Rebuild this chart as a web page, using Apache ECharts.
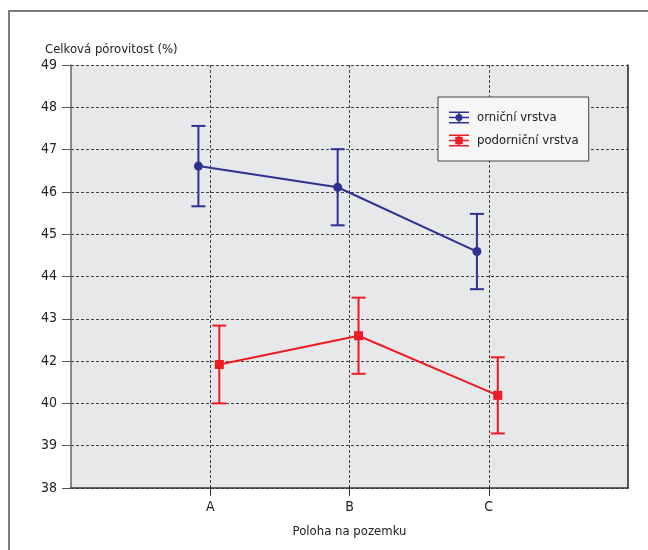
<!DOCTYPE html>
<html>
<head>
<meta charset="utf-8">
<script src="https://cdn.jsdelivr.net/npm/echarts@6/dist/echarts.min.js"></script>
<style>
  html, body { margin: 0; padding: 0; background: #fff; }
  #chart { width: 648px; height: 550px; }
</style>
</head>
<body>
<div id="chart"></div>
<script>
// kategorie na ose x
const categories = ['A', 'B', 'C'];
// orniční vrstva – průměr a polovina chybové úsečky
const orniciValues = [46.61, 46.11, 44.59];
const orniciErr = [0.95, 0.9, 0.89];
// podorniční vrstva
const podorniciValues = [41.92, 42.6, 41.19];
const podorniciErr = [0.92, 0.9, 0.9];
// popisky osy y tak, jak jsou v originále (41 chybí)
const yTickLabels = ['38', '39', '40', '42', '43', '44', '45', '46', '47', '48', '49'];

const FONT = "'Liberation Sans Narrow', 'DejaVu Sans Condensed', sans-serif";
const BLUE = '#2e3192';
const RED = '#ed1c24';

// posun bodů vedle sebe, aby se úsečky nepřekrývaly
const dodge = { ornici: -0.085, podornici: 0.065 };

function pts(values, off) {
  return values.map((v, i) => [i + 1 + off, v]);
}
function bars(values, err, off) {
  return values.map((v, i) => [i + 1 + off, v - err[i], v + err[i]]);
}

function errorBar(color) {
  return function (params, api) {
    const x = api.value(0);
    const lo = api.coord([x, api.value(1)]);
    const hi = api.coord([x, api.value(2)]);
    const w = 7;
    const style = { stroke: color, lineWidth: 2 };
    return {
      type: 'group',
      children: [
        { type: 'line', shape: { x1: lo[0], y1: lo[1], x2: hi[0], y2: hi[1] }, style },
        { type: 'line', shape: { x1: hi[0] - w, y1: hi[1], x2: hi[0] + w, y2: hi[1] }, style },
        { type: 'line', shape: { x1: lo[0] - w, y1: lo[1], x2: lo[0] + w, y2: lo[1] }, style }
      ]
    };
  };
}

// ikonky legendy: čárky jako chybová úsečka + značka
const iconCircle = 'path://M0,0h20v1.5h-20z M0,5.25h20v1.5h-20z M0,10.5h20v1.5h-20z M9.25,0h1.5v12h-1.5z M6.5,6a3.5,3.5 0 1,1 7,0a3.5,3.5 0 1,1 -7,0z';
const iconSquare = 'path://M0,0h20v1.5h-20z M0,5.25h20v1.5h-20z M0,10.5h20v1.5h-20z M9.25,0h1.5v12h-1.5z M6.25,2.25h7.5v7.5h-7.5z';

const myechart = echarts.init(document.getElementById('chart'));

const option = {
  animation: false,
  textStyle: { fontFamily: FONT },
  title: {
    text: 'Celková pórovitost (%)',
    left: 40,
    top: 38,
    textStyle: { fontFamily: FONT, fontSize: 13, fontWeight: 'normal', color: '#222' }
  },
  graphic: [
    {
      type: 'polyline',
      shape: { points: [[9, 560], [9, 11], [670, 11]] },
      style: { stroke: '#7a7a7a', lineWidth: 2, fill: null },
      silent: true
    }
  ],
  grid: {
    left: 71,
    right: 20,
    top: 65,
    bottom: 62,
    show: true,
    backgroundColor: '#e7e8ea',
    borderWidth: 0
  },
  legend: {
    orient: 'vertical',
    left: 438,
    top: 97,
    padding: [14, 10, 14, 11],
    itemGap: 10,
    itemWidth: 20,
    itemHeight: 12,
    backgroundColor: '#f6f6f6',
    borderColor: '#444',
    borderWidth: 1,
    textStyle: { fontFamily: FONT, fontSize: 13, color: '#222', padding: [0, 0, 0, 3] },
    data: [
      { name: 'orniční vrstva', icon: iconCircle },
      { name: 'podorniční vrstva', icon: iconSquare }
    ]
  },
  xAxis: {
    type: 'value',
    min: 0,
    max: 4,
    interval: 1,
    name: 'Poloha na pozemku',
    nameLocation: 'middle',
    nameGap: 37,
    nameTextStyle: { fontFamily: FONT, fontSize: 13, color: '#222' },
    axisLine: { show: true, onZero: false, lineStyle: { color: '#333', width: 1.5 } },
    axisTick: { show: true, customValues: [1, 2, 3], length: 8, lineStyle: { color: '#333' } },
    axisLabel: {
      customValues: [1, 2, 3],
      margin: 12,
      fontFamily: FONT,
      fontSize: 14,
      color: '#222',
      formatter: v => categories[Math.round(v) - 1] || ''
    },
    splitLine: { show: true, lineStyle: { type: [3, 2], color: '#444', width: 1 } }
  },
  yAxis: [
    {
      type: 'value',
      min: 39,
      max: 49,
      interval: 1,
      axisLine: { show: true, lineStyle: { color: '#666', width: 1.5 } },
      axisTick: { show: true, length: 9, lineStyle: { color: '#555' } },
      axisLabel: {
        margin: 14,
        fontFamily: FONT,
        fontSize: 14,
        color: '#222',
        formatter: v => yTickLabels[Math.round(v) - 39]
      },
      splitLine: { show: true, lineStyle: { type: [3, 2], color: '#444', width: 1 } }
    },
    {
      type: 'value',
      position: 'right',
      min: 39,
      max: 49,
      interval: 1,
      axisLine: { show: true, lineStyle: { color: '#222', width: 1.5 } },
      axisTick: { show: false },
      axisLabel: { show: false },
      splitLine: { show: false }
    }
  ],
  series: [
    {
      name: 'orniční vrstva',
      type: 'custom',
      renderItem: errorBar(BLUE),
      itemStyle: { color: BLUE },
      data: bars(orniciValues, orniciErr, dodge.ornici),
      encode: { x: 0, y: [1, 2] },
      z: 2
    },
    {
      name: 'podorniční vrstva',
      type: 'custom',
      renderItem: errorBar(RED),
      itemStyle: { color: RED },
      data: bars(podorniciValues, podorniciErr, dodge.podornici),
      encode: { x: 0, y: [1, 2] },
      z: 2
    },
    {
      name: 'orniční vrstva',
      type: 'line',
      symbol: 'circle',
      symbolSize: 9,
      itemStyle: { color: BLUE },
      lineStyle: { color: BLUE, width: 2 },
      data: pts(orniciValues, dodge.ornici),
      z: 3
    },
    {
      name: 'podorniční vrstva',
      type: 'line',
      symbol: 'rect',
      symbolSize: 9,
      itemStyle: { color: RED },
      lineStyle: { color: RED, width: 2 },
      data: pts(podorniciValues, dodge.podornici),
      z: 3
    }
  ]
};
myechart.setOption(option);
</script>
</body>
</html>
